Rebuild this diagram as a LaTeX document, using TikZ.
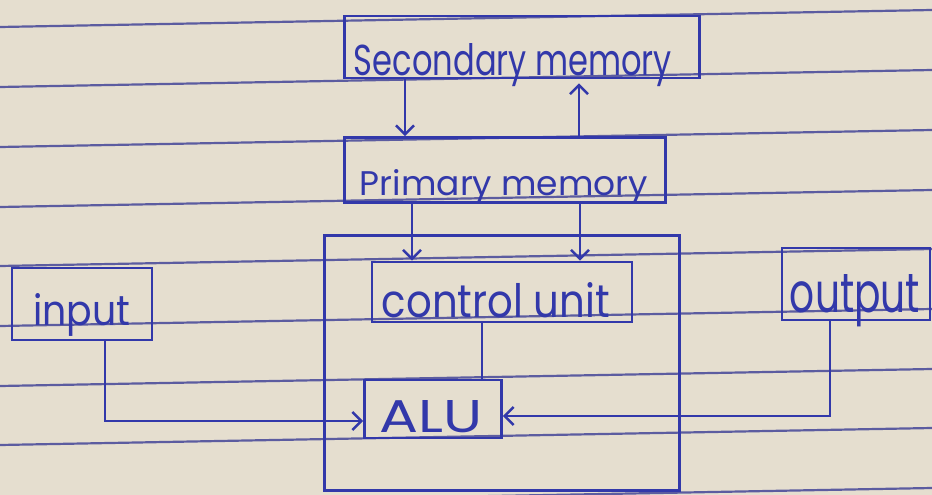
\documentclass[tikz,border=0pt]{standalone}
\usepackage{fontspec}
\setmainfont{Poppins}
\usetikzlibrary{arrows.meta}
\definecolor{paper}{RGB}{229,222,207}
\definecolor{ink}{RGB}{50,56,170}
\definecolor{ruling}{RGB}{92,92,160}
\begin{document}
\begin{tikzpicture}[x=1pt,y=-1pt,
  box/.style={draw=ink, line width=2.6pt, rectangle, inner sep=0pt},
  lbl/.style={text=ink, inner sep=0pt, anchor=base},
  arr/.style={draw=ink, line width=2.6pt, -{Straight Barb[length=9pt,width=18pt]}},
  wire/.style={draw=ink, line width=2.6pt}]
\fill[paper] (0,0) rectangle (932,495);
\useasboundingbox (0,0) rectangle (932,495);
\foreach \y in {27,87,147,207,266,326,386,445,505}
  \draw[ruling, line width=2.2pt] (0,\y) -- (932,{\y-17});
% boxes
\node[box, minimum width=355pt, minimum height=62pt] (sec) at (522,47) {};
\node[box, minimum width=321pt, minimum height=65pt] (prim) at (505,170) {};
\node[box, minimum width=355pt, minimum height=255pt] (cpu) at (502,363) {};
\node[box, minimum width=260pt, minimum height=60pt] (cu) at (502,292) {};
\node[box, minimum width=137pt, minimum height=58pt] (alu) at (433,409) {};
\node[box, minimum width=140pt, minimum height=72pt] (inp) at (82,304) {};
\node[box, minimum width=148pt, minimum height=72pt] (out) at (856,284) {};
% labels
\node[lbl] (sect) at (513,75) {\resizebox{318pt}{32pt}{Secondary memory}};
\node[lbl] (primt) at (504,195) {\resizebox{288pt}{26pt}{Primary memory}};
\node[lbl] (cut) at (496,317) {\resizebox{228pt}{35pt}{control unit}};
\node[lbl] (alut) at (431,432) {\resizebox{103pt}{32pt}{ALU}};
\node[lbl] (inpt) at (82,325) {\resizebox{97pt}{32pt}{input}};
\node[lbl] (outt) at (855,312) {\resizebox{130pt}{38pt}{output}};
% connectors
\coordinate (xa) at (405,0);
\coordinate (xb) at (579,0);
\coordinate (xc) at (412,0);
\coordinate (xd) at (580,0);
\coordinate (xe) at (482,0);
\coordinate (xi) at (105,0);
\coordinate (xo) at (830,0);
\coordinate (yi) at (0,421);
\coordinate (yo) at (0,416);
\draw[arr] (sec.south -| xa) -- (prim.north -| xa);
\draw[arr, shorten >=4pt] (prim.north -| xb) -- (sec.south -| xb);
\draw[arr] (prim.south -| xc) -- (cu.north -| xc);
\draw[arr] (prim.south -| xd) -- (cu.north -| xd);
\draw[wire] (cu.south -| xe) -- (alu.north -| xe);
\draw[arr] (inp.south -| xi) |- (alu.west |- yi);
\draw[arr] (out.south -| xo) |- (alu.east |- yo);
\end{tikzpicture}
\end{document}
